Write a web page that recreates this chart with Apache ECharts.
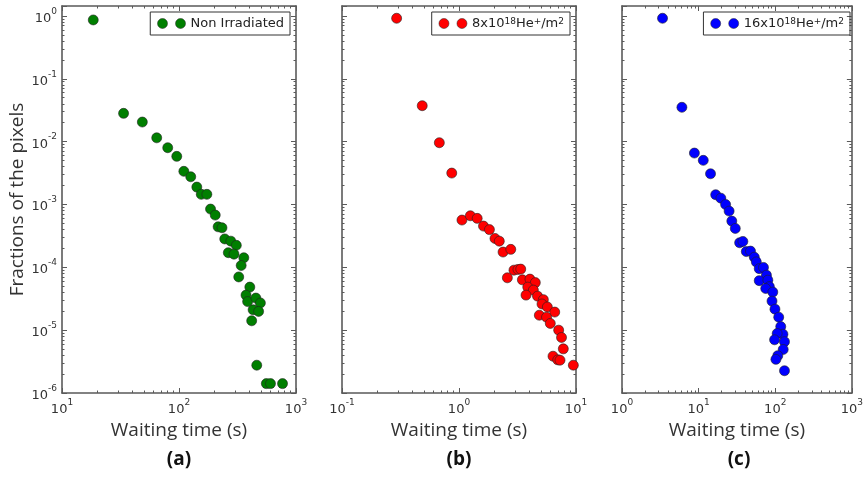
<!DOCTYPE html>
<html>
<head>
<meta charset="utf-8">
<title>Waiting time distributions</title>
<script src="https://cdn.jsdelivr.net/npm/echarts@6/dist/echarts.min.js"></script>
<style>
  html, body { margin: 0; background: #fff; }
  #main { width: 866px; height: 478px; }
</style>
</head>
<body>
<div id="main"></div>
<script>
// (a) non irradiated
var timeA = [18.5, 33.6, 48.6, 64.5, 80.1, 95.7, 110, 126, 142, 155, 173, 186, 204, 216, 233,
             246, 277, 309, 264, 295, 358, 340, 324, 403, 374, 386, 454, 496, 430, 479, 418,
             462, 558, 605, 767];
var fracA = [0.864, 0.0282, 0.0205, 0.0115, 0.0080, 0.00583, 0.00337, 0.00276, 0.00189, 0.00145,
             0.00145, 0.000845, 0.000678, 0.000441, 0.000426, 0.000283, 0.000261, 0.000224,
             0.000171, 0.000162, 0.000142, 0.000107, 7.03e-5, 4.84e-5, 3.61e-5, 2.85e-5, 3.24e-5,
             2.71e-5, 2.11e-5, 1.99e-5, 1.41e-5, 2.77e-6, 1.41e-6, 1.41e-6, 1.41e-6];

// (b) 8x10^18 He+/m2
var timeB = [0.293, 0.485, 0.679, 0.867, 1.06, 1.25, 1.43, 1.62, 1.82, 2.03, 2.21, 2.38, 2.77,
             2.95, 3.19, 3.37, 2.59, 3.48, 4.04, 4.49, 3.87, 4.32, 3.74, 4.69, 5.26, 5.12, 5.69,
             6.58, 4.86, 5.60, 6.03, 7.11, 7.52, 7.79, 6.36, 6.98, 7.30, 9.49];
var fracB = [0.919, 0.0373, 0.00961, 0.00316, 0.000565, 0.000661, 0.000601, 0.000453, 0.000398,
             0.000288, 0.000261, 0.000175, 0.000193, 9.02e-5, 9.26e-5, 9.36e-5, 6.81e-5, 6.32e-5,
             6.49e-5, 5.71e-5, 4.84e-5, 4.34e-5, 3.61e-5, 3.48e-5, 3.06e-5, 2.61e-5, 2.34e-5,
             1.94e-5, 1.73e-5, 1.61e-5, 1.28e-5, 1.0e-5, 7.65e-6, 5.04e-6, 3.85e-6, 3.37e-6,
             3.33e-6, 2.77e-6];

// (c) 16x10^18 He+/m2
var timeC = [3.38, 6.05, 8.81, 11.5, 14.3, 16.7, 19.5, 22.5, 25.0, 27.1, 30.1, 34.3, 37.8, 41.9,
             47.5, 53.3, 56.6, 61.8, 70.2, 76.7, 61.8, 80.1, 83.8, 75.1, 92.9, 90.7, 99.1, 111,
             118, 126, 106, 98, 132, 127, 108, 102, 132];
var fracC = [0.919, 0.0352, 0.00658, 0.00504, 0.00308, 0.00143, 0.00126, 0.0010, 0.000785,
             0.000544, 0.000416, 0.000246, 0.000258, 0.000178, 0.000181, 0.000145, 0.000122,
             9.53e-5, 9.96e-5, 7.51e-5, 6.14e-5, 6.25e-5, 4.93e-5, 4.61e-5, 4.03e-5, 2.9e-5,
             2.16e-5, 1.61e-5, 1.14e-5, 8.63e-6, 8.85e-6, 7.03e-6, 6.56e-6, 4.93e-6, 3.93e-6,
             3.43e-6, 2.26e-6];

var seriesNames = ['Non Irradiated', '8x10^18 He+/m2', '16x10^18 He+/m2'];
var legendRich = {
  'Non Irradiated': 'Non Irradiated',
  '8x10^18 He+/m2': '8x10{s|18}He{s|+}/m{s|2}',
  '16x10^18 He+/m2': '16x10{s|18}He{s|+}/m{s|2}'
};
var colors = ['#007f00', '#ff0000', '#0000ff'];
var xRanges = [[10, 1000], [0.1, 10], [1, 1000]];
var yRange = [1e-6, 1.44];
var grids = [62, 342, 622];
var gridW = 234, gridTop = 6, gridH = 387;
var panelLabels = ['(a)', '(b)', '(c)'];

function zip(xs, ys) {
  return xs.map(function (x, i) { return [x, ys[i]]; });
}
var points = [zip(timeA, fracA), zip(timeB, fracB), zip(timeC, fracC)];

var frame = '#5a5a5a';
var tickFont = 'DejaVu Sans';
function powLabel(v) {
  var lg = Math.log10(v);
  var e = Math.round(lg);
  if (Math.abs(lg - e) > 0.01) return '';
  return '{b|10}{s|' + e + '}';
}
var powRich = {
  b: { fontSize: 13, fontFamily: tickFont, color: '#333', lineHeight: 18, verticalAlign: 'bottom' },
  s: { fontSize: 9, fontFamily: tickFont, color: '#333', verticalAlign: 'top' }
};

function makeAxis(kind, i, pos, labels) {
  var range = kind === 'x' ? xRanges[i] : yRange;
  return {
    type: 'log',
    logBase: 10,
    gridIndex: i,
    position: pos,
    min: range[0],
    max: range[1],
    axisLine: { show: true, onZero: false, lineStyle: { color: frame, width: 1.6 } },
    axisTick: { show: true, inside: true, length: 5, lineStyle: { color: frame } },
    minorTick: { show: true, splitNumber: 9, length: 2.5, lineStyle: { color: frame } },
    splitLine: { show: false },
    axisLabel: { show: labels, formatter: powLabel, rich: powRich, margin: 5 }
  };
}

var xAxes = [], yAxes = [], gridList = [], series = [], legends = [], graphics = [];
for (var i = 0; i < 3; i++) {
  gridList.push({ left: grids[i], top: gridTop, width: gridW, height: gridH });
  var xb = makeAxis('x', i, 'bottom', true);
  xb.name = 'Waiting time (s)';
  xb.nameLocation = 'middle';
  xb.nameGap = 21;
  xb.nameTextStyle = { fontFamily: 'Open Sans', fontSize: 19, color: '#333' };
  xAxes.push(xb);
  xAxes.push(makeAxis('x', i, 'top', false));
  var yl = makeAxis('y', i, 'left', i === 0);
  if (i === 0) {
    yl.name = 'Fractions of the pixels';
    yl.nameLocation = 'middle';
    yl.nameGap = 29;
    yl.nameTextStyle = { fontFamily: 'Open Sans', fontSize: 19, color: '#333' };
  }
  yAxes.push(yl);
  yAxes.push(makeAxis('y', i, 'right', false));

  series.push({
    name: seriesNames[i],
    type: 'scatter',
    xAxisIndex: 2 * i,
    yAxisIndex: 2 * i,
    symbolSize: 10,
    itemStyle: { color: colors[i], borderColor: '#222', borderWidth: 0.6, opacity: 1 },
    data: points[i]
  });

  legends.push({
    data: [seriesNames[i]],
    right: 866 - (grids[i] + gridW) + 6,
    top: 12,
    orient: 'horizontal',
    icon: 'path://M0,5a5,5 0 1,0 10,0a5,5 0 1,0 -10,0M18,5a5,5 0 1,0 10,0a5,5 0 1,0 -10,0',
    itemWidth: 28,
    itemHeight: 10,
    itemGap: 4,
    itemStyle: { borderWidth: 0.5, borderColor: '#222' },
    padding: [5, 6, 5, 7],
    borderColor: '#333',
    borderWidth: 1,
    borderRadius: 0,
    selectedMode: false,
    formatter: function (name) { return legendRich[name]; },
    textStyle: {
      fontFamily: tickFont, fontSize: 13, color: '#222',
      rich: { s: { fontFamily: tickFont, fontSize: 9, color: '#222', verticalAlign: 'top' } }
    }
  });

  graphics.push({
    type: 'text',
    x: grids[i] + gridW / 2,
    y: 460,
    style: {
      text: panelLabels[i], fill: '#111', font: 'bold 19px "Open Sans"',
      textAlign: 'center', textVerticalAlign: 'middle'
    }
  });
}

var myChart = echarts.init(document.getElementById('main'));
myChart.setOption({
  animation: false,
  backgroundColor: '#fff',
  grid: gridList,
  xAxis: xAxes,
  yAxis: yAxes,
  legend: legends,
  series: series,
  graphic: graphics
});
</script>
</body>
</html>
